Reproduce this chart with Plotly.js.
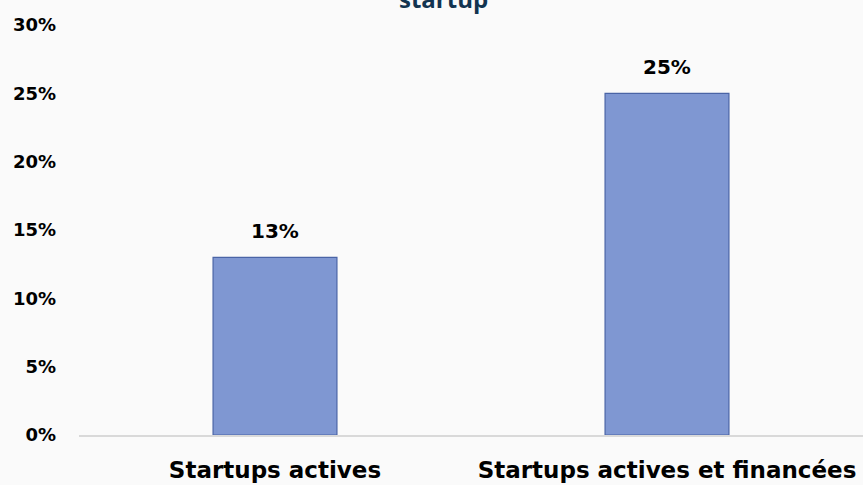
<!DOCTYPE html>
<html><head><meta charset="utf-8">
<script src="https://cdn.plot.ly/plotly-3.0.1.min.js"></script>
<style>html,body{margin:0;padding:0;background:#fafafa;}#chart{width:863px;height:485px;}</style>
</head><body><div id="chart"></div>
<script>
const categories = ["Startups actives", "Startups actives et financées"];
const values = [13, 25];
const labels = ["13%", "25%"];
const yTickVals = [0, 5, 10, 15, 20, 25, 30];
const titleText = "startup";

const FONT = 'DejaVu Sans, sans-serif';
const trace = {
  type: 'bar', x: categories, y: values,
  marker: {color: '#7f97d2', line: {color: '#4a64a6', width: 1.2}},
  hoverinfo: 'none'
};
const annotations = categories.map((c, i) => ({
  x: c, y: values[i], xref: 'x', yref: 'y', text: labels[i], showarrow: false,
  yanchor: 'bottom', yshift: 12,
  font: {family: FONT, size: 20, color: '#000', weight: 'bold'}
}));
annotations.push({
  x: (443-79)/784, xref: 'paper', y: 1 + (25-17)/410, yref: 'paper', yanchor: 'bottom',
  text: titleText, showarrow: false,
  font: {family: 'Open Sans, sans-serif', size: 24, color: '#123450', weight: 'bold'}
});
const layout = {
  width: 863, height: 485,
  margin: {l: 79, r: 0, t: 25, b: 50},
  paper_bgcolor: '#fafafa', plot_bgcolor: '#fafafa',
  bargap: 0.684, showlegend: false,
  xaxis: {
    showline: true, linecolor: '#d9d9d9', linewidth: 1.5, ticks: '',
    tickfont: {family: FONT, size: 23, color: '#000', weight: 'bold'},
    ticklabelstandoff: 14
  },
  yaxis: {
    range: [0, 30], tickvals: yTickVals, ticktext: yTickVals.map(v => v + '%'),
    showgrid: false, zeroline: false, showline: false, ticks: '',
    tickfont: {family: FONT, size: 18, color: '#000', weight: 'bold'},
    ticklabelstandoff: 22
  },
  annotations: annotations
};
Plotly.newPlot('chart', [trace], layout, {displayModeBar: false, staticPlot: true});
</script></body></html>
